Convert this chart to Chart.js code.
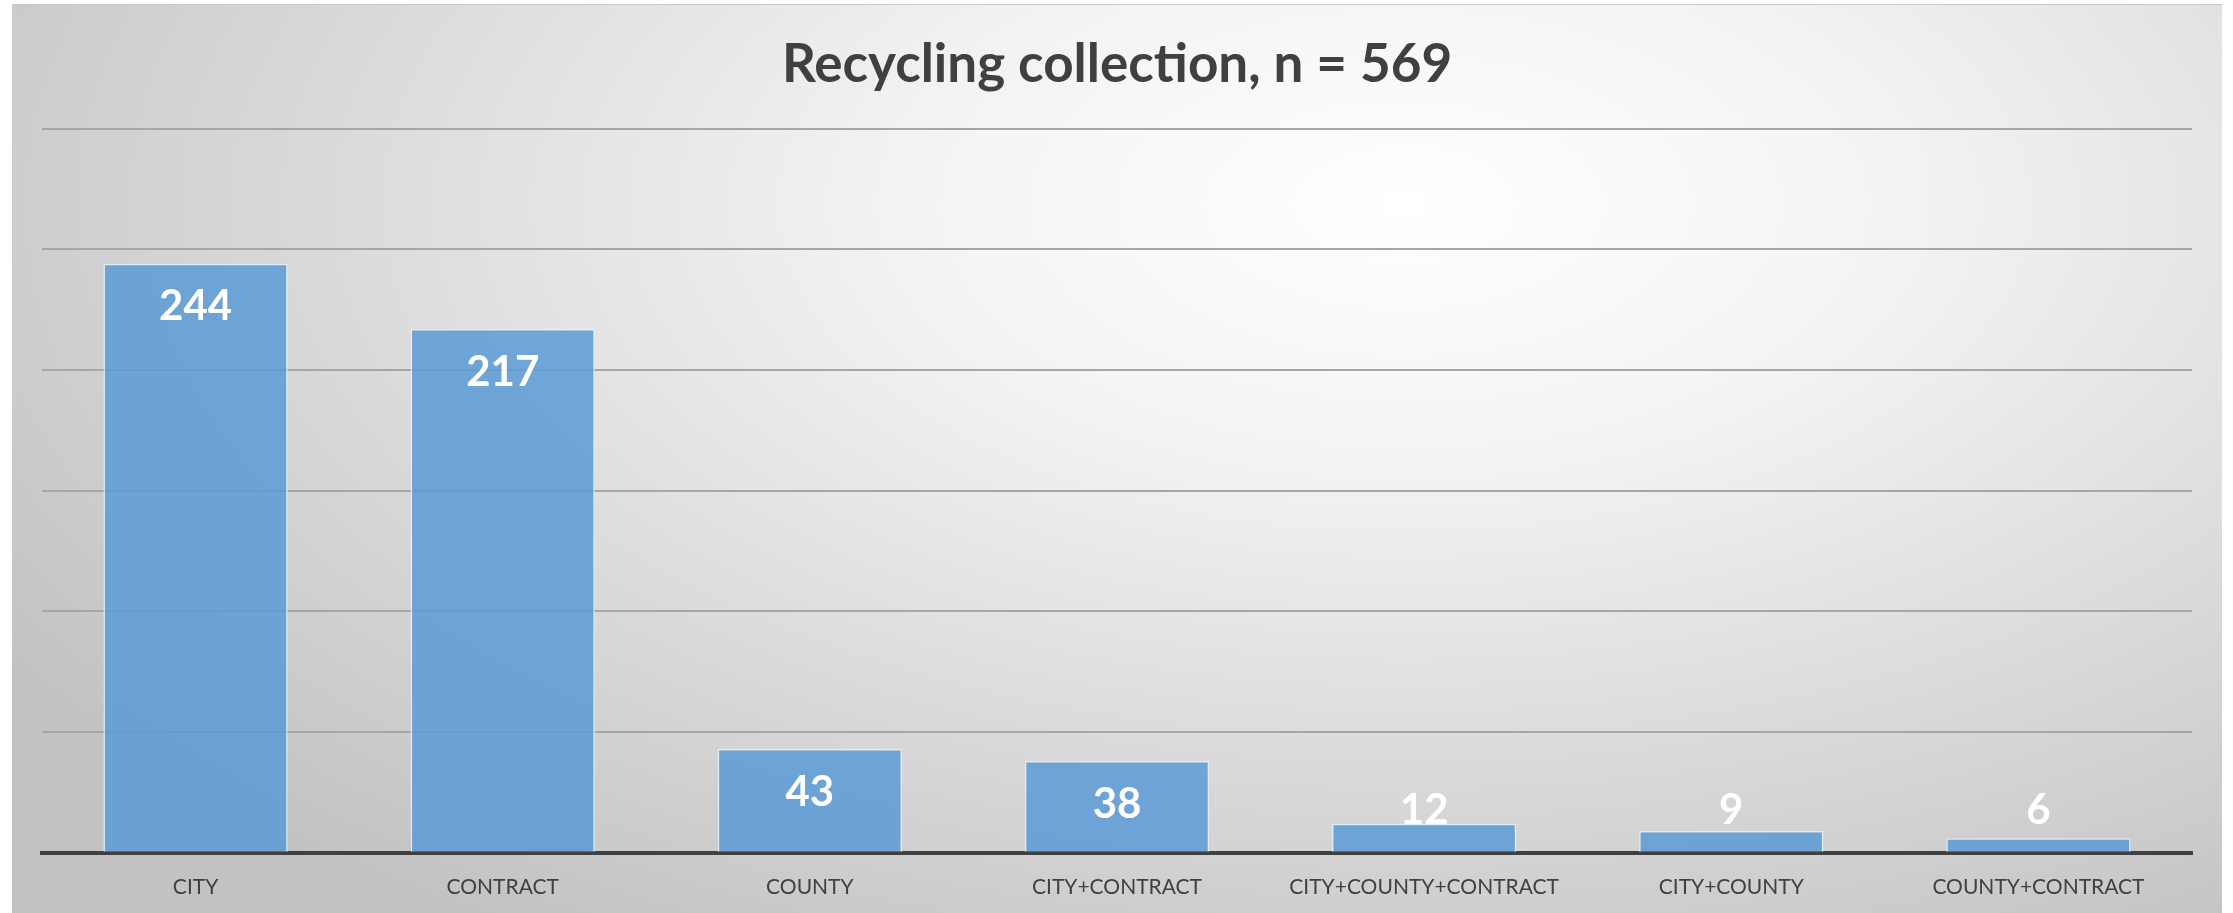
<!DOCTYPE html>
<html>
<head>
<meta charset="utf-8">
<script src="https://cdn.jsdelivr.net/npm/chart.js@4"></script>
<style>
  html, body { margin: 0; padding: 0; background: #ffffff; }
  #wrap {
    position: absolute; left: 12px; top: 4px; width: 2210px; height: 909px;
    border-top: 1px solid #c8c8c8;
    background: radial-gradient(ellipse 75% 95% at 63% 22%, #ffffff 0%, #f3f3f3 30%, #dadada 65%, #c2c2c2 100%);
  }
</style>
</head>
<body>
<div id="wrap"><canvas id="chart1"></canvas></div>
<script>
var categories = ['CITY', 'CONTRACT', 'COUNTY', 'CITY+CONTRACT', 'CITY+COUNTY+CONTRACT', 'CITY+COUNTY', 'COUNTY+CONTRACT'];
var counts = [244, 217, 43, 38, 12, 9, 6];
var yTicks = [0, 50, 100, 150, 200, 250, 300];

// white numbers near the top of each bar, like Excel's "inside end"
var barLabels = {
    id: 'barLabels',
    afterDatasetsDraw: function(chart) {
        var ctx = chart.ctx;
        var meta = chart.getDatasetMeta(0);
        ctx.save();
        ctx.fillStyle = '#ffffff';
        ctx.font = 'bold 42px Lato';
        ctx.textAlign = 'center';
        ctx.textBaseline = 'middle';
        meta.data.forEach(function(bar, i) {
            var y = Math.min(bar.y + 43, bar.base - 41);
            ctx.fillText(counts[i], bar.x, y);
        });
        ctx.restore();
    }
};

new Chart(document.getElementById('chart1'), {
    type: 'bar',
    data: {
        labels: categories,
        datasets: [{
            data: counts,
            backgroundColor: 'rgba(91, 155, 213, 0.85)',
            borderColor: 'rgba(225, 238, 250, 0.9)',
            borderWidth: 1.5,
            barPercentage: 0.6,
            categoryPercentage: 1.0
        }]
    },
    options: {
        responsive: true,
        maintainAspectRatio: false,
        animation: false,
        layout: { padding: { left: 30, right: 30, top: 0, bottom: 0 } },
        plugins: {
            legend: { display: false },
            tooltip: { enabled: false },
            title: {
                display: true,
                text: 'Recycling collection, n = 569',
                color: '#404040',
                font: { family: 'Lato', size: 53, weight: 'bold' },
                padding: { top: 28, bottom: 32 }
            }
        },
        scales: {
            x: {
                grid: { display: false },
                border: { color: '#404040', width: 4 },
                ticks: { color: '#404040', font: { family: 'Lato', size: 21 }, padding: 14, maxRotation: 0 }
            },
            y: {
                min: 0,
                max: 300,
                afterBuildTicks: function(scale) {
                    scale.ticks = yTicks.map(function(v) { return { value: v }; });
                },
                ticks: { display: false },
                grid: { color: '#a6a6a6', lineWidth: 2, drawTicks: false },
                border: { display: false }
            }
        }
    },
    plugins: [barLabels]
});
</script>
</body>
</html>
